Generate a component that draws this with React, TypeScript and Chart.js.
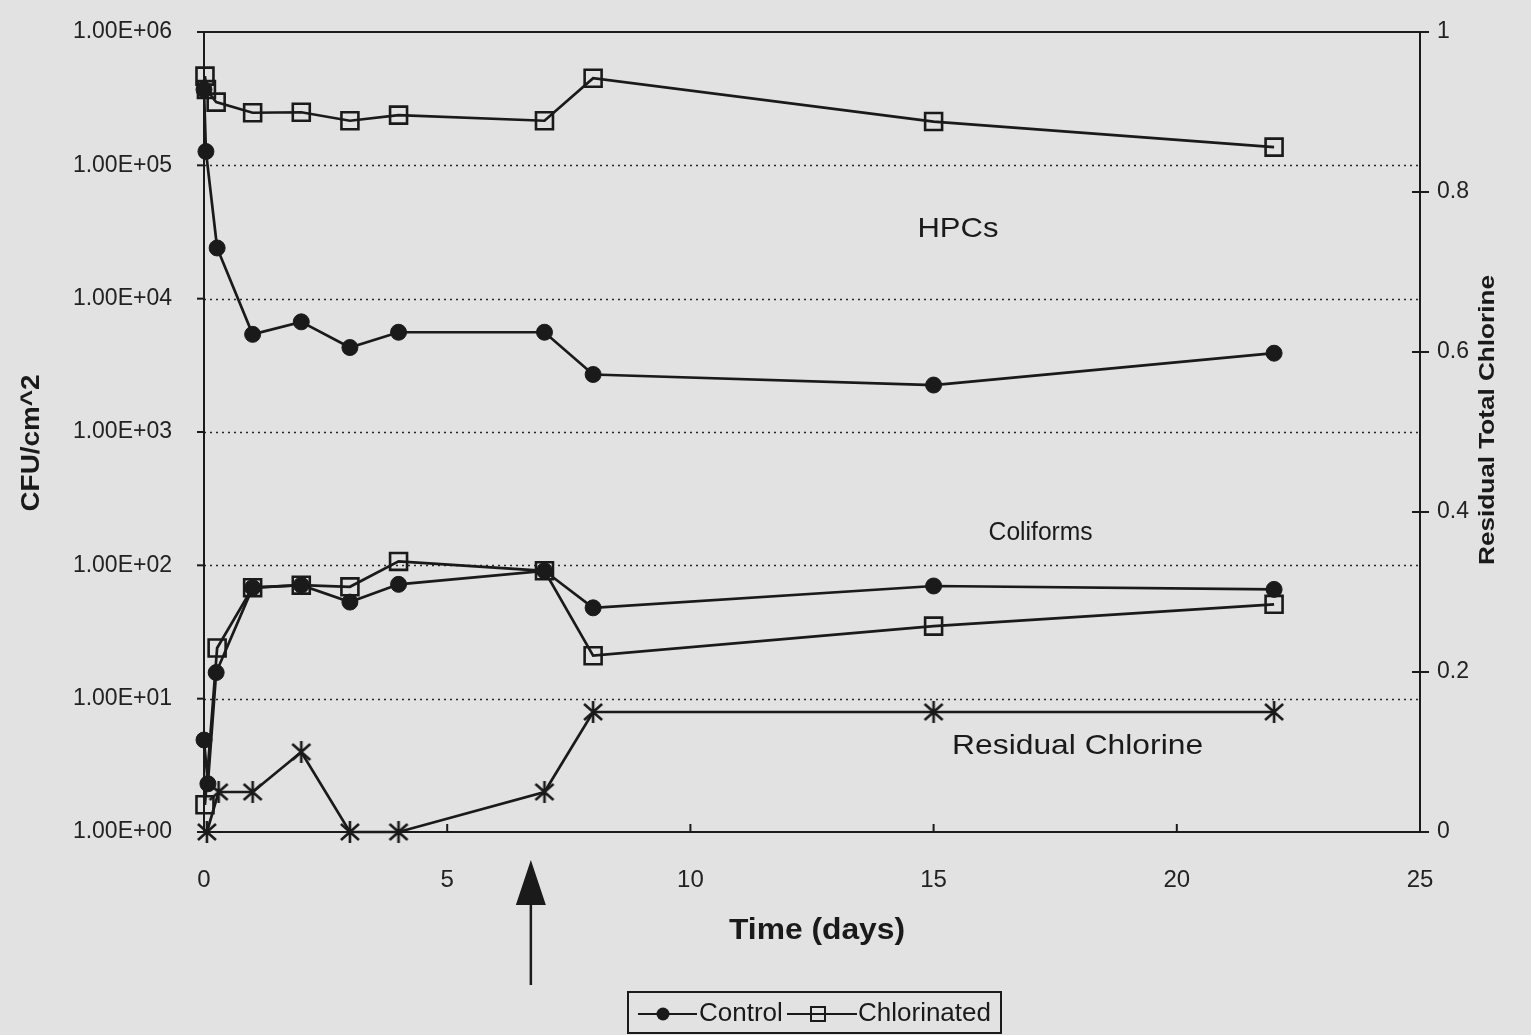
import React, { useEffect, useRef } from 'react';
import { Chart, registerables } from 'chart.js';

Chart.register(...registerables);

// ---------------- data ----------------
const hpcControlDays = [0, 0.04, 0.27, 1, 2, 3, 4, 7, 8, 15, 22];
const hpcControlCfu = [370000, 127000, 24000, 5400, 6700, 4300, 5600, 5600, 2700, 2250, 3900];

const hpcChlorDays = [0.02, 0.05, 0.25, 1, 2, 3, 4, 7, 8, 15, 22];
const hpcChlorCfu = [467000, 370000, 298000, 248000, 250000, 216000, 238000, 216000, 450000, 213000, 137000];

const coliControlDays = [0, 0.08, 0.25, 1, 2, 3, 4, 7, 8, 15, 22];
const coliControlCfu = [4.9, 2.3, 15.7, 68, 71, 53, 72, 91, 48, 70, 66];

const coliChlorDays = [0.02, 0.27, 1, 2, 3, 4, 7, 8, 15, 22];
const coliChlorCfu = [1.6, 24, 68, 71, 69, 107, 91, 21, 35, 51];

const chlorineDays = [0.06, 0.3, 1, 2, 3, 4, 7, 8, 15, 22];
const chlorineResidual = [0, 0.05, 0.05, 0.1, 0, 0, 0.05, 0.15, 0.15, 0.15];

const xTickValues = [0, 5, 10, 15, 20, 25];
const leftTickValues = [1, 10, 100, 1000, 10000, 100000, 1000000];
const leftTickLabels = ['1.00E+00', '1.00E+01', '1.00E+02', '1.00E+03', '1.00E+04', '1.00E+05', '1.00E+06'];
const gridValues = [10, 100, 1000, 10000, 100000];
const rightTickValues = [0, 0.2, 0.4, 0.6, 0.8, 1];
const rightTickLabels = ['0', '0.2', '0.4', '0.6', '0.8', '1'];

const regionLabels = ['HPCs', 'Coliforms', 'Residual Chlorine'];
const regionLabelDays = [15.5, 17.2, 17.96];
const regionLabelCfu = [33000, 175, 4.4];
const chlorinationDay = 6.72;

// ---------------- styles ----------------
const BG = '#e2e2e2';
const INK = '#1a1a1a';
const FONT = "'Liberation Sans', Arial, sans-serif";
const regionLabelFonts = [28, 25, 28];
const regionLabelWidths = [81, 104, 251];

const pts = (xs: number[], ys: number[]) => xs.map((x, i) => ({ x, y: ys[i] }));

function makeAsterisk(): HTMLCanvasElement {
  const c = document.createElement('canvas');
  c.width = 22;
  c.height = 24;
  const g = c.getContext('2d')!;
  g.strokeStyle = INK;
  g.lineWidth = 2.6;
  g.beginPath();
  g.moveTo(11, 1);
  g.lineTo(11, 23);
  g.moveTo(2, 4);
  g.lineTo(20, 20);
  g.moveTo(20, 4);
  g.lineTo(2, 20);
  g.stroke();
  return c;
}

function fitText(ctx: CanvasRenderingContext2D, text: string, cx: number, cy: number, rot: number, font: string, target: number) {
  ctx.save();
  ctx.font = font;
  const w = ctx.measureText(text).width;
  const s = target / w;
  ctx.translate(cx, cy);
  ctx.rotate(rot);
  ctx.scale(s, 1);
  ctx.textAlign = 'center';
  ctx.textBaseline = 'middle';
  ctx.fillStyle = INK;
  ctx.fillText(text, 0, 0);
  ctx.restore();
}

const decorPlugin = {
  id: 'decor',
  beforeDatasetsDraw(chart: any) {
    const { ctx, chartArea: a, scales } = chart;
    const x = scales.x, y = scales.y, y2 = scales.y2;
    const line = (x1: number, y1: number, x2: number, y2p: number) => {
      ctx.beginPath();
      ctx.moveTo(x1, y1);
      ctx.lineTo(x2, y2p);
      ctx.stroke();
    };
    ctx.save();
    ctx.strokeStyle = '#262626';
    ctx.lineWidth = 1.7;
    ctx.setLineDash([2, 4]);
    for (const v of gridValues) {
      const py = Math.round(y.getPixelForValue(v)) + 0.5;
      line(a.left, py, a.right, py);
    }
    ctx.setLineDash([]);
    ctx.strokeStyle = INK;
    ctx.lineWidth = 2;
    ctx.strokeRect(a.left, a.top, a.right - a.left, a.bottom - a.top);
    for (const v of leftTickValues) {
      const py = y.getPixelForValue(v);
      line(a.left - 7, py, a.left, py);
    }
    for (const v of rightTickValues) {
      const py = y2.getPixelForValue(v);
      line(a.right - 8, py, a.right + 9, py);
    }
    for (const v of xTickValues) {
      const px = x.getPixelForValue(v);
      line(px, a.bottom, px, a.bottom - 8);
    }
    ctx.restore();
  },
  afterDraw(chart: any) {
    const { ctx, chartArea: a, scales } = chart;
    const x = scales.x, y = scales.y;
    ctx.save();
    // axis titles
    fitText(ctx, 'CFU/cm^2', 32, 443, -Math.PI / 2, `bold 26px ${FONT}`, 137);
    fitText(ctx, 'Residual Total Chlorine', 1488, 420, -Math.PI / 2, `bold 22px ${FONT}`, 290);
    fitText(ctx, 'Time (days)', 817, 931, 0, `bold 30px ${FONT}`, 176);

    // region labels
    regionLabels.forEach((t, i) => {
      fitText(
        ctx,
        t,
        x.getPixelForValue(regionLabelDays[i]),
        y.getPixelForValue(regionLabelCfu[i]),
        0,
        `${regionLabelFonts[i]}px ${FONT}`,
        regionLabelWidths[i]
      );
    });

    // chlorination arrow
    const ax = x.getPixelForValue(chlorinationDay);
    ctx.fillStyle = INK;
    ctx.beginPath();
    ctx.moveTo(ax, a.bottom + 28);
    ctx.lineTo(ax + 15, a.bottom + 73);
    ctx.lineTo(ax - 15, a.bottom + 73);
    ctx.closePath();
    ctx.fill();
    ctx.strokeStyle = INK;
    ctx.lineWidth = 2.5;
    ctx.beginPath();
    ctx.moveTo(ax, a.bottom + 70);
    ctx.lineTo(ax, a.bottom + 153);
    ctx.stroke();

    // legend
    const lx = 628, ly = 992, lw = 373, lh = 41;
    ctx.fillStyle = BG;
    ctx.fillRect(lx, ly, lw, lh);
    ctx.strokeStyle = INK;
    ctx.lineWidth = 2;
    ctx.strokeRect(lx, ly, lw, lh);
    const cy = ly + 22;
    ctx.lineWidth = 2.2;
    ctx.beginPath();
    ctx.moveTo(638, cy);
    ctx.lineTo(697, cy);
    ctx.stroke();
    ctx.fillStyle = INK;
    ctx.beginPath();
    ctx.arc(663, cy, 6.5, 0, Math.PI * 2);
    ctx.fill();
    ctx.beginPath();
    ctx.moveTo(787, cy);
    ctx.lineTo(857, cy);
    ctx.stroke();
    ctx.lineWidth = 2;
    ctx.strokeRect(811, cy - 7, 14, 14);
    ctx.font = `26px ${FONT}`;
    ctx.textAlign = 'left';
    ctx.textBaseline = 'middle';
    ctx.fillStyle = INK;
    ctx.fillText('Control', 699, cy);
    ctx.fillText('Chlorinated', 858, cy);
    ctx.restore();
  },
};

const zeroPad = (s: any) => {
  s.paddingTop = 0;
  s.paddingBottom = 0;
};

export default function App() {
  const ref = useRef<HTMLCanvasElement>(null);

  useEffect(() => {
    if (!ref.current) return;
    const asterisk = makeAsterisk();
    const common = {
      borderColor: INK,
      borderWidth: 2.7,
      tension: 0,
      clip: false as const,
      showLine: true,
    };
    const chart = new Chart(ref.current, {
      type: 'line',
      data: {
        datasets: [
          {
            ...common,
            label: 'Control HPC',
            data: pts(hpcControlDays, hpcControlCfu),
            yAxisID: 'y',
            pointStyle: 'circle',
            pointRadius: 8,
            pointBackgroundColor: INK,
            pointBorderColor: INK,
            pointBorderWidth: 1,
          },
          {
            ...common,
            label: 'Control Coliforms',
            data: pts(coliControlDays, coliControlCfu),
            yAxisID: 'y',
            pointStyle: 'circle',
            pointRadius: 8,
            pointBackgroundColor: INK,
            pointBorderColor: INK,
            pointBorderWidth: 1,
          },
          {
            ...common,
            label: 'Chlorinated HPC',
            data: pts(hpcChlorDays, hpcChlorCfu),
            yAxisID: 'y',
            pointStyle: 'rect',
            pointRadius: 12,
            pointBackgroundColor: 'rgba(0,0,0,0)',
            pointBorderColor: INK,
            pointBorderWidth: 2.6,
          },
          {
            ...common,
            label: 'Chlorinated Coliforms',
            data: pts(coliChlorDays, coliChlorCfu),
            yAxisID: 'y',
            pointStyle: 'rect',
            pointRadius: 12,
            pointBackgroundColor: 'rgba(0,0,0,0)',
            pointBorderColor: INK,
            pointBorderWidth: 2.6,
          },
          {
            ...common,
            label: 'Residual Chlorine',
            data: pts(chlorineDays, chlorineResidual),
            yAxisID: 'y2',
            pointStyle: asterisk as any,
            pointRadius: 10,
          },
        ],
      },
      options: {
        animation: false,
        responsive: false,
        devicePixelRatio: 1,
        layout: { padding: { top: 32, left: 0, right: 0, bottom: 0 } },
        plugins: {
          legend: { display: false },
          tooltip: { enabled: false },
          title: { display: false },
        },
        scales: {
          x: {
            type: 'linear',
            min: 0,
            max: 25,
            afterBuildTicks: (s: any) => {
              s.ticks = xTickValues.map((v) => ({ value: v }));
            },
            afterFit: (s: any) => {
              s.height = 203;
              s.paddingLeft = 0;
              s.paddingRight = 0;
            },
            ticks: {
              color: '#222',
              font: { family: FONT, size: 24 },
              padding: 34,
              maxRotation: 0,
              callback: (v: any) => String(v),
            },
            grid: { display: false, drawTicks: false },
            border: { display: false },
          },
          y: {
            type: 'logarithmic',
            position: 'left',
            min: 1,
            max: 1000000,
            afterBuildTicks: (s: any) => {
              s.ticks = leftTickValues.map((v) => ({ value: v, major: true }));
            },
            afterFit: (s: any) => {
              s.width = 204;
              zeroPad(s);
            },
            ticks: {
              color: '#222',
              font: { family: FONT, size: 23 },
              padding: 32,
              autoSkip: false,
              callback: (v: any) => {
                const i = leftTickValues.indexOf(Number(v));
                return i >= 0 ? leftTickLabels[i] : '';
              },
            },
            grid: { display: false, drawTicks: false },
            border: { display: false },
          },
          y2: {
            type: 'linear',
            position: 'right',
            min: 0,
            max: 1,
            afterBuildTicks: (s: any) => {
              s.ticks = rightTickValues.map((v) => ({ value: v }));
            },
            afterFit: (s: any) => {
              s.width = 111;
              zeroPad(s);
            },
            ticks: {
              color: '#222',
              font: { family: FONT, size: 23 },
              padding: 17,
              callback: (v: any) => {
                const i = rightTickValues.findIndex((r) => Math.abs(r - Number(v)) < 1e-9);
                return i >= 0 ? rightTickLabels[i] : '';
              },
            },
            grid: { display: false, drawTicks: false },
            border: { display: false },
          },
        },
      } as any,
      plugins: [decorPlugin],
    });
    return () => chart.destroy();
  }, []);

  return (
    <div style={{ position: 'fixed', left: 0, top: 0, width: 1531, height: 1035, background: BG, overflow: 'hidden' }}>
      <canvas ref={ref} width={1531} height={1035} style={{ display: 'block', width: 1531, height: 1035 }} />
    </div>
  );
}
